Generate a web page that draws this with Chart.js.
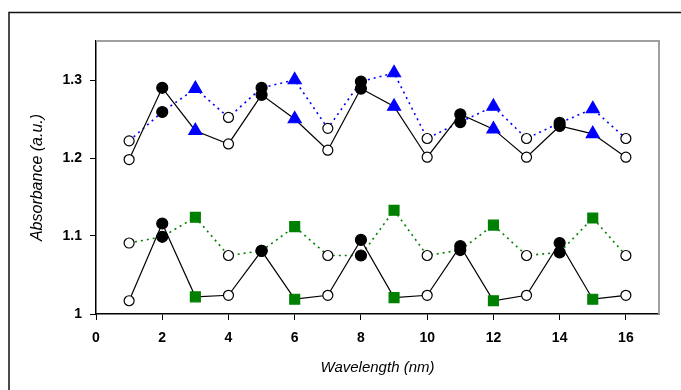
<!DOCTYPE html>
<html>
<head>
<meta charset="utf-8">
<script src="https://cdn.jsdelivr.net/npm/chart.js"></script>
<style>
  html, body { margin: 0; padding: 0; background: #fff; }
  #wrap { width: 681px; height: 390px; }
</style>
</head>
<body>
<div id="wrap"><canvas id="absChart"></canvas></div>
<script>
// data
const wavelength = [1, 2, 3, 4, 5, 6, 7, 8, 9, 10, 11, 12, 13, 14, 15, 16]
const upperBlack = [1.198, 1.290, 1.235, 1.218, 1.281, 1.250, 1.210, 1.289, 1.266, 1.201, 1.256, 1.237, 1.201, 1.241, 1.231, 1.201]
const upperBlue  = [1.222, 1.259, 1.289, 1.252, 1.290, 1.300, 1.238, 1.298, 1.309, 1.225, 1.246, 1.266, 1.225, 1.245, 1.263, 1.225]
const lowerGreen = [1.091, 1.099, 1.124, 1.075, 1.081, 1.112, 1.075, 1.075, 1.133, 1.075, 1.082, 1.114, 1.075, 1.079, 1.123, 1.075]
const lowerBlack = [1.017, 1.116, 1.022, 1.024, 1.081, 1.019, 1.024, 1.095, 1.021, 1.024, 1.087, 1.017, 1.024, 1.091, 1.019, 1.024]
const xTicks = [0, 2, 4, 6, 8, 10, 12, 14, 16]
const yTicks = [1, 1.1, 1.2, 1.3]

function toPoints(values){
    return values.map((v, i) => ({x: wavelength[i], y: v}))
}

// every third point: open circle, filled circle, coloured shape
function markerStyle(shape, color){
    let style = [], bg = [], border = [], radius = []
    for(let i = 0; i < wavelength.length; i++){
        let k = i % 3
        if(k === 0){ style.push('circle'); bg.push('#fff'); border.push('#000'); radius.push(5) }
        else if(k === 1){ style.push('circle'); bg.push('#000'); border.push('#000'); radius.push(5.5) }
        else { style.push(shape); bg.push(color); border.push(color); radius.push(shape === 'rect' ? 7 : 7.5) }
    }
    return {pointStyle: style, pointBackgroundColor: bg, pointBorderColor: border, pointRadius: radius}
}

function makeSet(values, lineColor, dashed, shape, shapeColor){
    return Object.assign({
        data: toPoints(values),
        showLine: true,
        borderColor: lineColor,
        borderWidth: dashed ? 1.6 : 1.2,
        borderDash: dashed ? [2, 4] : [],
        pointBorderWidth: 1.2,
        fill: false,
        tension: 0
    }, markerStyle(shape, shapeColor))
}

const framePlugin = {
    id: 'frame',
    beforeDraw(chart){
        const ctx = chart.ctx
        ctx.save()
        ctx.strokeStyle = '#111'
        ctx.lineWidth = 1.5
        ctx.beginPath()
        ctx.moveTo(9, 390)
        ctx.lineTo(9, 12.5)
        ctx.lineTo(681, 12.5)
        ctx.stroke()
        ctx.restore()
    },
    afterDraw(chart){
        const a = chart.chartArea
        const ctx = chart.ctx
        ctx.save()
        ctx.strokeStyle = '#a0a0a0'
        ctx.lineWidth = 2
        ctx.beginPath()
        ctx.moveTo(a.left, a.top)
        ctx.lineTo(a.right, a.top)
        ctx.lineTo(a.right, a.bottom)
        ctx.stroke()
        ctx.restore()
    }
}

const tickFont = {family: 'Liberation Sans, Arial', size: 14, weight: 'bold'}

const config = {
    type: 'scatter',
    data: {
        datasets: [
            makeSet(upperBlack, '#000', false, 'triangle', '#0000ff'),
            makeSet(upperBlue, '#0000ff', true, 'triangle', '#0000ff'),
            makeSet(lowerBlack, '#000', false, 'rect', '#008000'),
            makeSet(lowerGreen, '#008000', true, 'rect', '#008000')
        ]
    },
    options: {
        responsive: true,
        maintainAspectRatio: false,
        animation: false,
        layout: {padding: {left: 0, top: 41, right: 22, bottom: 0}},
        plugins: {legend: {display: false}, tooltip: {enabled: false}},
        scales: {
            x: {
                type: 'linear',
                min: 0,
                max: 17,
                afterBuildTicks: s => { s.ticks = xTicks.map(v => ({value: v})) },
                afterFit: s => { s.height = 76 },
                grid: {drawOnChartArea: false, tickLength: 6, color: '#000', tickWidth: 1},
                border: {color: '#000', width: 1.5},
                ticks: {font: tickFont, color: '#000', padding: 10, maxRotation: 0},
                title: {
                    display: true,
                    text: 'Wavelength (nm)',
                    color: '#000',
                    font: {family: 'Liberation Sans, Arial', size: 15, style: 'italic'},
                    padding: {top: 0, bottom: 13}
                }
            },
            y: {
                type: 'linear',
                min: 1,
                max: 1.35,
                afterBuildTicks: s => { s.ticks = yTicks.map(v => ({value: v})) },
                afterFit: s => { s.width = 96 },
                grid: {drawOnChartArea: false, tickLength: 6, color: '#000', tickWidth: 1},
                border: {color: '#000', width: 1.5},
                ticks: {
                    font: tickFont,
                    color: '#000',
                    padding: 8,
                    callback: v => String(Math.round(v * 10) / 10)
                },
                title: {
                    display: true,
                    text: 'Absorbance (a.u.)',
                    color: '#000',
                    font: {family: 'Liberation Sans, Arial', size: 16, style: 'italic'},
                    padding: {top: 28, bottom: 0}
                }
            }
        }
    },
    plugins: [framePlugin]
}

let ctx = document.getElementById('absChart').getContext('2d')
new Chart(ctx, config)
</script>
</body>
</html>
